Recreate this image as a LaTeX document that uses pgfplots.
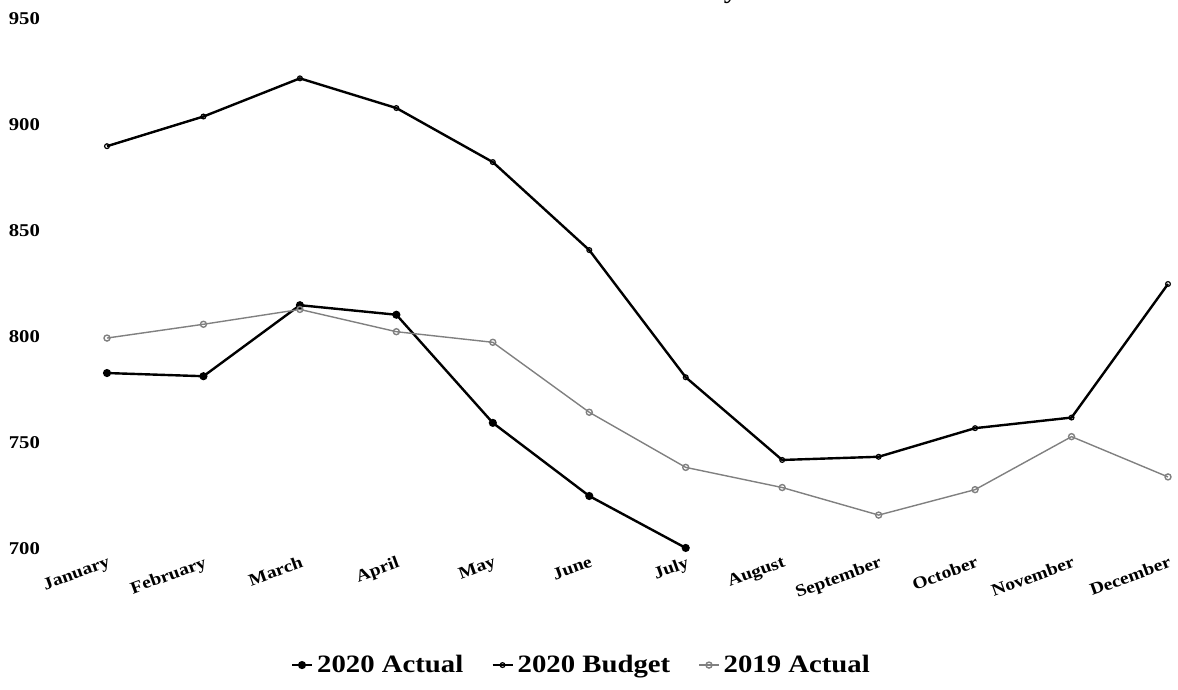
\documentclass[border=0pt]{standalone}
\usepackage{fontspec}
\setmainfont[FakeStretch=1.15]{Liberation Serif}
\usepackage{pgfplots}
\pgfplotsset{compat=1.18}
\usetikzlibrary{calc}

\begin{document}
\begin{tikzpicture}
\begin{axis}[
  name=ax,
  scale only axis,
  width=530.5pt, height=265pt,
  xmin=0, xmax=11, ymin=700, ymax=950,
  axis line style={draw=none},
  tick style={draw=none},
  xtick={0,...,11},
  xticklabels={January,February,March,April,May,June,July,August,September,October,November,December},
  ytick={700,750,...,950},
  /pgf/number format/assume math mode=true,
  yticklabel style={font=\bfseries\fontsize{9}{11}\selectfont, xshift=-30pt},
  xticklabel style={font=\bfseries\fontsize{8.5}{10}\selectfont, rotate=20, anchor=north east, inner sep=1pt, yshift=-2pt},
  clip=false,
  legend columns=3,
  legend style={draw=none, fill=none, at={(0.448,-0.219)}, anchor=center,
    font=\bfseries\fontsize{12.5}{14}\selectfont,
    /tikz/every even column/.append style={column sep=12pt}},
  legend image code/.code={\draw[mark repeat=2,mark phase=2] plot coordinates {(0pt,0pt)(5pt,0pt)(10pt,0pt)};},
]
% 2020 Actual
\addplot[black, line width=1.2pt, mark=*, mark size=1.4pt] coordinates {
  (0,783) (1,781.5) (2,815) (3,810.5) (4,759.5) (5,725) (6,700.5)};
\addlegendentry{2020 Actual}
% 2020 Budget
\addplot[black, line width=1.2pt, mark=o, mark size=1.2pt, mark options={line width=0.6pt}] coordinates {
  (0,890) (1,904) (2,922) (3,908) (4,882.5) (5,841) (6,781) (7,742) (8,743.5) (9,757) (10,762) (11,825)};
\addlegendentry{2020 Budget}
% 2019 Actual
\addplot[black!50, line width=0.7pt, mark=o, mark size=1.5pt] coordinates {
  (0,799.5) (1,806) (2,813) (3,802.5) (4,797.5) (5,764.5) (6,738.5) (7,729) (8,716) (9,728) (10,753) (11,734)};
\addlegendentry{2019 Actual}

\node[anchor=base east, font=\bfseries\fontsize{12}{14}\selectfont, yshift=10pt] at (rel axis cs:0.601,1) {Activity};
\end{axis}
\pgfresetboundingbox
\path[use as bounding box] ($(ax.south west)+(-53.5pt,-70.5pt)$) rectangle ($(ax.north east)+(5pt,9.5pt)$);
\end{tikzpicture}
\end{document}
